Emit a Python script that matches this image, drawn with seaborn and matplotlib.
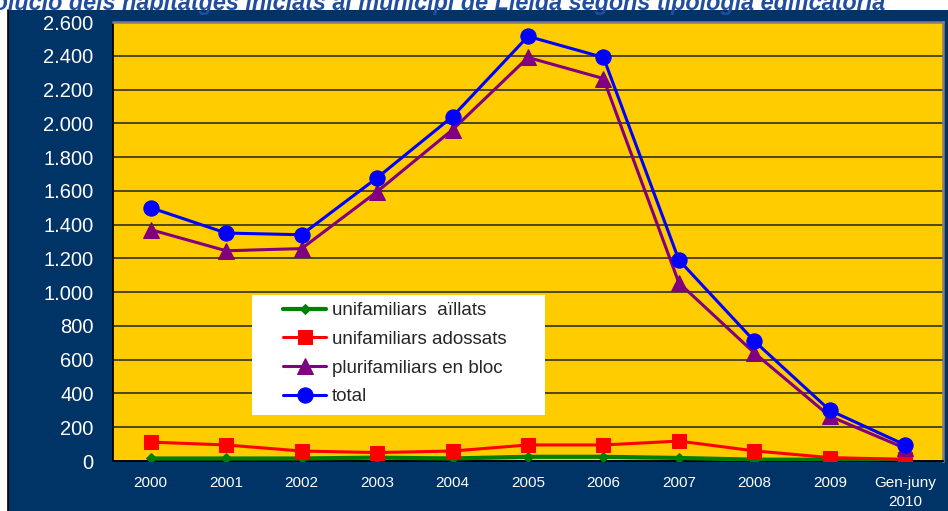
import matplotlib
matplotlib.use("Agg")
import matplotlib.pyplot as plt
import seaborn as sns
import pandas as pd
from matplotlib.patches import Rectangle
from matplotlib.lines import Line2D
from matplotlib.ticker import FuncFormatter, FixedLocator

categories = ["2000", "2001", "2002", "2003", "2004", "2005", "2006", "2007", "2008", "2009", "Gen-juny\n2010"]
aillats = [15, 15, 15, 20, 15, 25, 25, 18, 8, 8, 6]
adossats = [112, 95, 59, 50, 59, 95, 95, 118, 60, 20, 10]
plurifamiliars = [1370, 1245, 1258, 1595, 1962, 2390, 2265, 1055, 640, 265, 75]
total = [1500, 1350, 1340, 1677, 2040, 2515, 2390, 1190, 710, 300, 95]
series_names = ["unifamiliars  aïllats", "unifamiliars adossats", "plurifamiliars en bloc", "total"]
title = "Evolució dels habitatges iniciats al municipi de Lleida segons tipologia edificatòria"

sns.set_theme(style="white")
plt.rcParams['font.family'] = ['Liberation Sans', 'DejaVu Sans']

W, H = 948, 511
fig = plt.figure(figsize=(W / 100, H / 100), dpi=100, facecolor="white")

navy = "#003366"
fig.patches.append(Rectangle((8 / W, 0), (W - 8) / W, (H - 10) / H, transform=fig.transFigure,
                             facecolor=navy, edgecolor="none", zorder=-10))
fig.lines.append(Line2D([8 / W, 8 / W], [0, (H - 10) / H], transform=fig.transFigure,
                        color="black", lw=1.2, zorder=-9))

ax = fig.add_axes([113 / W, (H - 461) / H, 830 / W, 439 / H])
ax.set_zorder(2)
ax.set_facecolor("#FFCC00")

xs = list(range(len(categories)))
df = pd.DataFrame({"x": xs * 4,
                   "y": aillats + adossats + plurifamiliars + total,
                   "serie": sum([[n] * len(xs) for n in series_names], [])})

styles = [
    (series_names[0], "#008000", "D", 5.5, 3.0),
    (series_names[1], "#FF0000", "s", 10, 2.2),
    (series_names[2], "#800080", "^", 11, 2.2),
    (series_names[3], "#0000FF", "o", 11, 2.2),
]
for name, col, mk, ms, lw in styles:
    sub = df[df["serie"] == name]
    sns.lineplot(data=sub, x="x", y="y", ax=ax, color=col, marker=mk, markersize=ms,
                 markeredgecolor=col, linewidth=lw, label=name, zorder=3)

ax.set_xlim(-0.5, len(categories) - 0.5)
ax.set_ylim(0, 2600)
ax.set_yticks(range(0, 2601, 200))
ax.yaxis.set_major_formatter(FuncFormatter(lambda v, p: f"{int(v):,}".replace(",", ".")))
ax.grid(axis="y", color="#222222", lw=1.1, zorder=1)
ax.set_axisbelow(True)

ax.set_xticks(xs)
ax.set_xticklabels(categories, color="white", fontsize=11, linespacing=1.45)
ax.xaxis.set_minor_locator(FixedLocator([i - 0.5 for i in range(len(categories) + 1)]))
ax.tick_params(axis="x", which="major", length=0, pad=11)
ax.tick_params(axis="x", which="minor", length=5, width=1.2, color="black", direction="out")
ax.tick_params(axis="y", length=6, width=1.2, color="black", direction="out", labelcolor="white",
               labelsize=14.5, pad=8)
ax.set_xlabel("")
ax.set_ylabel("")

for s in ["left", "bottom"]:
    ax.spines[s].set_color("black")
    ax.spines[s].set_linewidth(1.3)
for s in ["top", "right"]:
    ax.spines[s].set_color("#808080")
    ax.spines[s].set_linewidth(1.8)
    ax.spines[s].set_visible(True)

# legend box (white panel) drawn in axes coordinates
def ax_x(px):
    return (px - 113) / 830

def ax_y(py):
    return (461 - py) / 439

ax.add_patch(Rectangle((ax_x(252), ax_y(415)), ax_x(545) - ax_x(252), ax_y(295) - ax_y(415),
                       transform=ax.transAxes, facecolor="white", edgecolor="none", zorder=4))
leg = ax.legend(loc="upper left", bbox_to_anchor=(ax_x(283), ax_y(302)), frameon=False,
                fontsize=13.5, handlelength=2.3, labelspacing=0.62,
                borderpad=0, handletextpad=0.3, borderaxespad=0)
leg.set_zorder(5)

fig.text(885 / W, 1 - 10 / H, title, ha="right", va="baseline", fontsize=16.8,
         fontweight="bold", fontstyle="italic", color="#1F4E9E", zorder=5)

fig.savefig("out.png", dpi=100, facecolor="white")
